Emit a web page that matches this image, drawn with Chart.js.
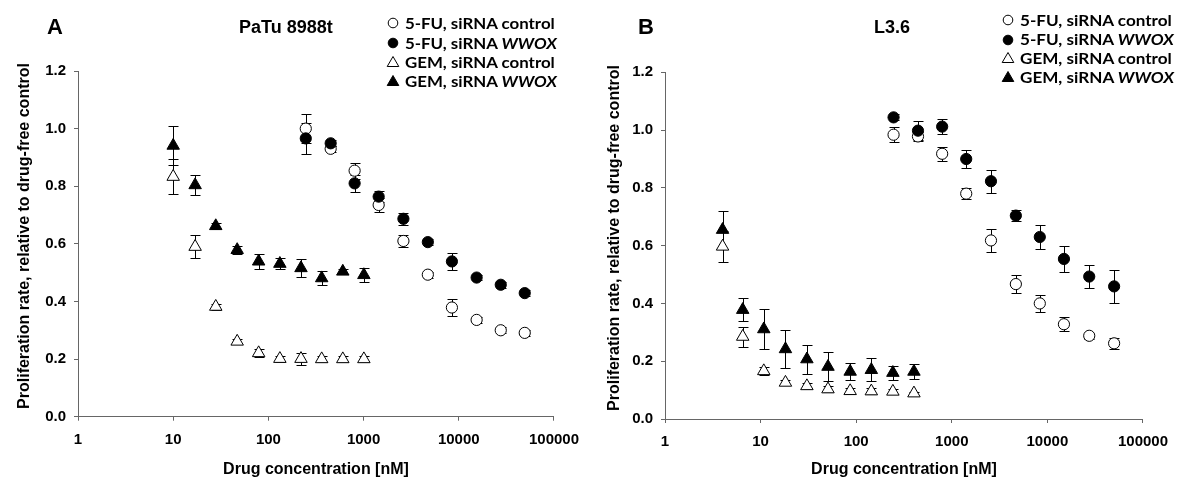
<!DOCTYPE html>
<html>
<head>
<meta charset="utf-8">
<script src="https://cdn.jsdelivr.net/npm/chart.js@4.4.1/dist/chart.umd.min.js"></script>
<style>
  body { margin: 0; background: #fff; }
  #page { position: relative; width: 1178px; height: 482px; overflow: hidden; font-family: "Liberation Sans", Arial, sans-serif; }
  canvas { position: absolute; top: 0; }
  .txt { position: absolute; white-space: nowrap; font-weight: bold; color: #000; }
  .letter { font-size: 22px; line-height: 26px; }
  .title { font-size: 18px; line-height: 22px; }
  .ytitle { width: 420px; text-align: center; font-size: 16px; line-height: 20px; transform: rotate(-90deg); }
  .legend { position: absolute; font-family: Lato, "Open Sans", sans-serif; font-weight: bold; font-size: 14.5px; }
  .legend .row { position: absolute; left: 0; height: 19px; white-space: nowrap; }
  .legend svg { position: absolute; left: -7px; top: 2.5px; }
  .legend .lab { position: absolute; left: 12px; top: 0; line-height: 19px; transform-origin: 0 50%; }
</style>
</head>
<body>
<div id="page">
  <canvas id="chartA" width="589" height="482" style="left:0"></canvas>
  <canvas id="chartB" width="589" height="482" style="left:589px"></canvas>
</div>
<script>
// Panel A - PaTu 8988t
const gemDosesA = [10, 17, 28, 47, 79, 132, 220, 363, 605, 1007];
const fuDosesA = [247, 451, 805, 1440, 2620, 4730, 8470, 15400, 27600, 49300];
const fuCtrlA = [1.00, 0.93, 0.854, 0.735, 0.61, 0.493, 0.379, 0.336, 0.30, 0.291];
const fuCtrlErrA = [0.05, 0.01, 0.028, 0.023, 0.02, 0.01, 0.03, 0.01, 0.01, 0.01];
const fuWwoxA = [0.966, 0.949, 0.81, 0.764, 0.687, 0.606, 0.539, 0.483, 0.458, 0.429];
const fuWwoxErrA = [0.055, 0.01, 0.03, 0.02, 0.02, 0.01, 0.03, 0.01, 0.01, 0.01];
const gemCtrlA = [0.833, 0.59, 0.382, 0.261, 0.221, 0.201, 0.201, 0.20, 0.20, 0.20];
const gemCtrlErrA = [0.06, 0.04, 0.01, 0.01, 0.015, 0.01, 0.02, 0.01, 0.01, 0.01];
const gemWwoxA = [0.941, 0.804, 0.662, 0.579, 0.539, 0.531, 0.516, 0.481, 0.504, 0.492];
const gemWwoxErrA = [0.067, 0.035, 0.01, 0.015, 0.025, 0.02, 0.03, 0.025, 0.01, 0.025];

// Panel B - L3.6
const gemDosesB = [4, 6.5, 10.8, 18.2, 30.5, 50.7, 86.5, 144, 242, 402];
const fuDosesB = [246, 443, 793, 1416, 2570, 4680, 8330, 14900, 27400, 49900];
const fuCtrlB = [0.984, 0.978, 0.918, 0.78, 0.618, 0.467, 0.40, 0.328, 0.288, 0.262];
const fuCtrlErrB = [0.025, 0.015, 0.025, 0.02, 0.04, 0.03, 0.03, 0.025, 0.01, 0.02];
const fuWwoxB = [1.044, 0.998, 1.012, 0.90, 0.823, 0.704, 0.63, 0.554, 0.493, 0.459];
const fuWwoxErrB = [0.01, 0.032, 0.025, 0.03, 0.04, 0.02, 0.04, 0.045, 0.04, 0.057];
const gemCtrlB = [0.597, 0.285, 0.166, 0.126, 0.114, 0.103, 0.097, 0.096, 0.095, 0.089];
const gemCtrlErrB = [0.055, 0.035, 0.015, 0.01, 0.01, 0.01, 0.01, 0.01, 0.01, 0.005];
const gemWwoxB = [0.655, 0.378, 0.311, 0.242, 0.207, 0.181, 0.164, 0.17, 0.16, 0.164];
const gemWwoxErrB = [0.066, 0.04, 0.07, 0.065, 0.05, 0.05, 0.03, 0.04, 0.025, 0.025];

const xTickValues = [1, 10, 100, 1000, 10000, 100000];
const legendLabels = ['5-FU, siRNA control', '5-FU, siRNA <i>WWOX</i>', 'GEM, siRNA control', 'GEM, siRNA <i>WWOX</i>'];
const xTitle = 'Drug concentration [nM]';
const yTitle = 'Proliferation rate, relative to drug-free control';

const axisColor = '#666';
const tickFont = { family: '"Liberation Sans", Arial, sans-serif', size: 15, weight: 'bold' };

// marker styles, same order as the legend
const markers = [
    { pointStyle: 'circle', radius: 5.6, fill: '#fff' },
    { pointStyle: 'circle', radius: 5.6, fill: '#000' },
    { pointStyle: 'triangle', radius: 7.2, fill: '#fff' },
    { pointStyle: 'triangle', radius: 7.2, fill: '#000' }
];

// draws vertical error bars with caps under the markers
const errorBarsPlugin = {
    id: 'errorBars',
    beforeDatasetsDraw(chart) {
        const { ctx, scales: { x, y } } = chart;
        ctx.save();
        ctx.strokeStyle = '#000';
        ctx.lineWidth = 1;
        chart.data.datasets.forEach(ds => {
            ds.data.forEach((p, i) => {
                const e = ds.errors[i];
                if (!e) return;
                const px = Math.round(x.getPixelForValue(p.x)) + 0.5;
                const top = Math.round(y.getPixelForValue(p.y + e)) + 0.5;
                const bot = Math.round(y.getPixelForValue(p.y - e)) + 0.5;
                ctx.beginPath();
                ctx.moveTo(px, top); ctx.lineTo(px, bot);
                ctx.moveTo(px - 5, top); ctx.lineTo(px + 5, top);
                ctx.moveTo(px - 5, bot); ctx.lineTo(px + 5, bot);
                ctx.stroke();
            });
        });
        ctx.restore();
    }
};

function makeSet(doses, values, errors, m, order) {
    return {
        data: doses.map((d, i) => ({ x: d, y: values[i] })),
        errors: errors,
        pointStyle: m.pointStyle,
        pointRadius: m.radius,
        pointHoverRadius: m.radius,
        pointBackgroundColor: m.fill,
        pointBorderColor: '#000',
        pointBorderWidth: 1,
        showLine: false,
        clip: false,
        order: order
    };
}

function makeChart(id, box, sets) {
    return new Chart(document.getElementById(id), {
        type: 'scatter',
        data: { datasets: sets },
        options: {
            responsive: false,
            animation: false,
            events: [],
            layout: { padding: { top: box.top, right: box.right, left: 0, bottom: 0 } },
            plugins: { legend: { display: false }, tooltip: { enabled: false } },
            scales: {
                x: {
                    type: 'logarithmic',
                    min: 1,
                    max: 100000,
                    afterBuildTicks: s => { s.ticks = xTickValues.map(v => ({ value: v })); },
                    afterFit: s => { s.height = box.bottom; },
                    ticks: { callback: v => String(v), font: tickFont, color: '#000', padding: 10, maxRotation: 0, autoSkip: false },
                    grid: { drawOnChartArea: false, tickLength: 4, color: axisColor },
                    border: { color: axisColor, width: 1 },
                    title: { display: true, text: xTitle, color: '#000', padding: { top: 0, bottom: 3 },
                             font: { family: '"Liberation Sans", Arial, sans-serif', size: 16, weight: 'bold' } }
                },
                y: {
                    min: 0,
                    max: 1.2,
                    afterFit: s => { s.width = box.left; },
                    ticks: { stepSize: 0.2, callback: v => v.toFixed(1), font: tickFont, color: '#000', padding: 8 },
                    grid: { drawOnChartArea: false, tickLength: 4, color: axisColor },
                    border: { color: axisColor, width: 1 }
                }
            }
        },
        plugins: [errorBarsPlugin]
    });
}

makeChart('chartA', { left: 78, top: 71, right: 27, bottom: 65.3 }, [
    makeSet(fuDosesA, fuCtrlA, fuCtrlErrA, markers[0], 2),
    makeSet(fuDosesA, fuWwoxA, fuWwoxErrA, markers[1], 1),
    makeSet(gemDosesA, gemCtrlA, gemCtrlErrA, markers[2], 2),
    makeSet(gemDosesA, gemWwoxA, gemWwoxErrA, markers[3], 1)
]);

makeChart('chartB', { left: 76, top: 72.3, right: 29.6, bottom: 63 }, [
    makeSet(fuDosesB, fuCtrlB, fuCtrlErrB, markers[0], 2),
    makeSet(fuDosesB, fuWwoxB, fuWwoxErrB, markers[1], 1),
    makeSet(gemDosesB, gemCtrlB, gemCtrlErrB, markers[2], 2),
    makeSet(gemDosesB, gemWwoxB, gemWwoxErrB, markers[3], 1)
]);

// Text overlays: panel letters, cell line titles, y titles, legends
const page = document.getElementById('page');

function addText(cls, html, cx, cy) {
    const el = document.createElement('div');
    el.className = 'txt ' + cls;
    el.innerHTML = html;
    page.appendChild(el);
    el.style.left = (cx - el.offsetWidth / 2) + 'px';
    el.style.top = (cy - el.offsetHeight / 2) + 'px';
    return el;
}

function symbolSvg(m) {
    const s = 14, c = 7;
    let shape;
    if (m.pointStyle === 'circle') {
        shape = `<circle cx="${c}" cy="${c}" r="4.8" fill="${m.fill}" stroke="#000" stroke-width="1"/>`;
    } else {
        shape = `<polygon points="${c},${c - 5.5} ${c + 5.8},${c + 4.5} ${c - 5.8},${c + 4.5}" fill="${m.fill}" stroke="#000" stroke-width="1"/>`;
    }
    return `<svg width="${s}" height="${s}" viewBox="0 0 ${s} ${s}">${shape}</svg>`;
}

function addLegend(x, rowsY, textWidth) {
    const box = document.createElement('div');
    box.className = 'legend';
    box.style.left = x + 'px';
    box.style.top = '0px';
    page.appendChild(box);
    const labels = [];
    legendLabels.forEach((label, i) => {
        const row = document.createElement('div');
        row.className = 'row';
        row.style.top = (rowsY[i] - 9.5) + 'px';
        row.innerHTML = symbolSvg(markers[i]) + `<span class="lab">${label}</span>`;
        box.appendChild(row);
        labels.push(row.querySelector('.lab'));
    });
    // stretch the labels so the first one has the measured width
    const k = textWidth / labels[0].offsetWidth;
    labels.forEach(l => { l.style.transform = `scaleX(${k})`; });
}

addText('letter', 'A', 55, 27);
addText('letter', 'B', 646, 27);
addText('title', 'PaTu 8988t', 286, 27);
addText('title', 'L3.6', 892, 26.5);
addText('ytitle', yTitle, 23.5, 236);
addText('ytitle', yTitle, 613.5, 238);
addLegend(393, [23, 43, 62, 81], 150);
addLegend(1008, [20, 39.5, 58, 77], 152);
</script>
</body>
</html>
